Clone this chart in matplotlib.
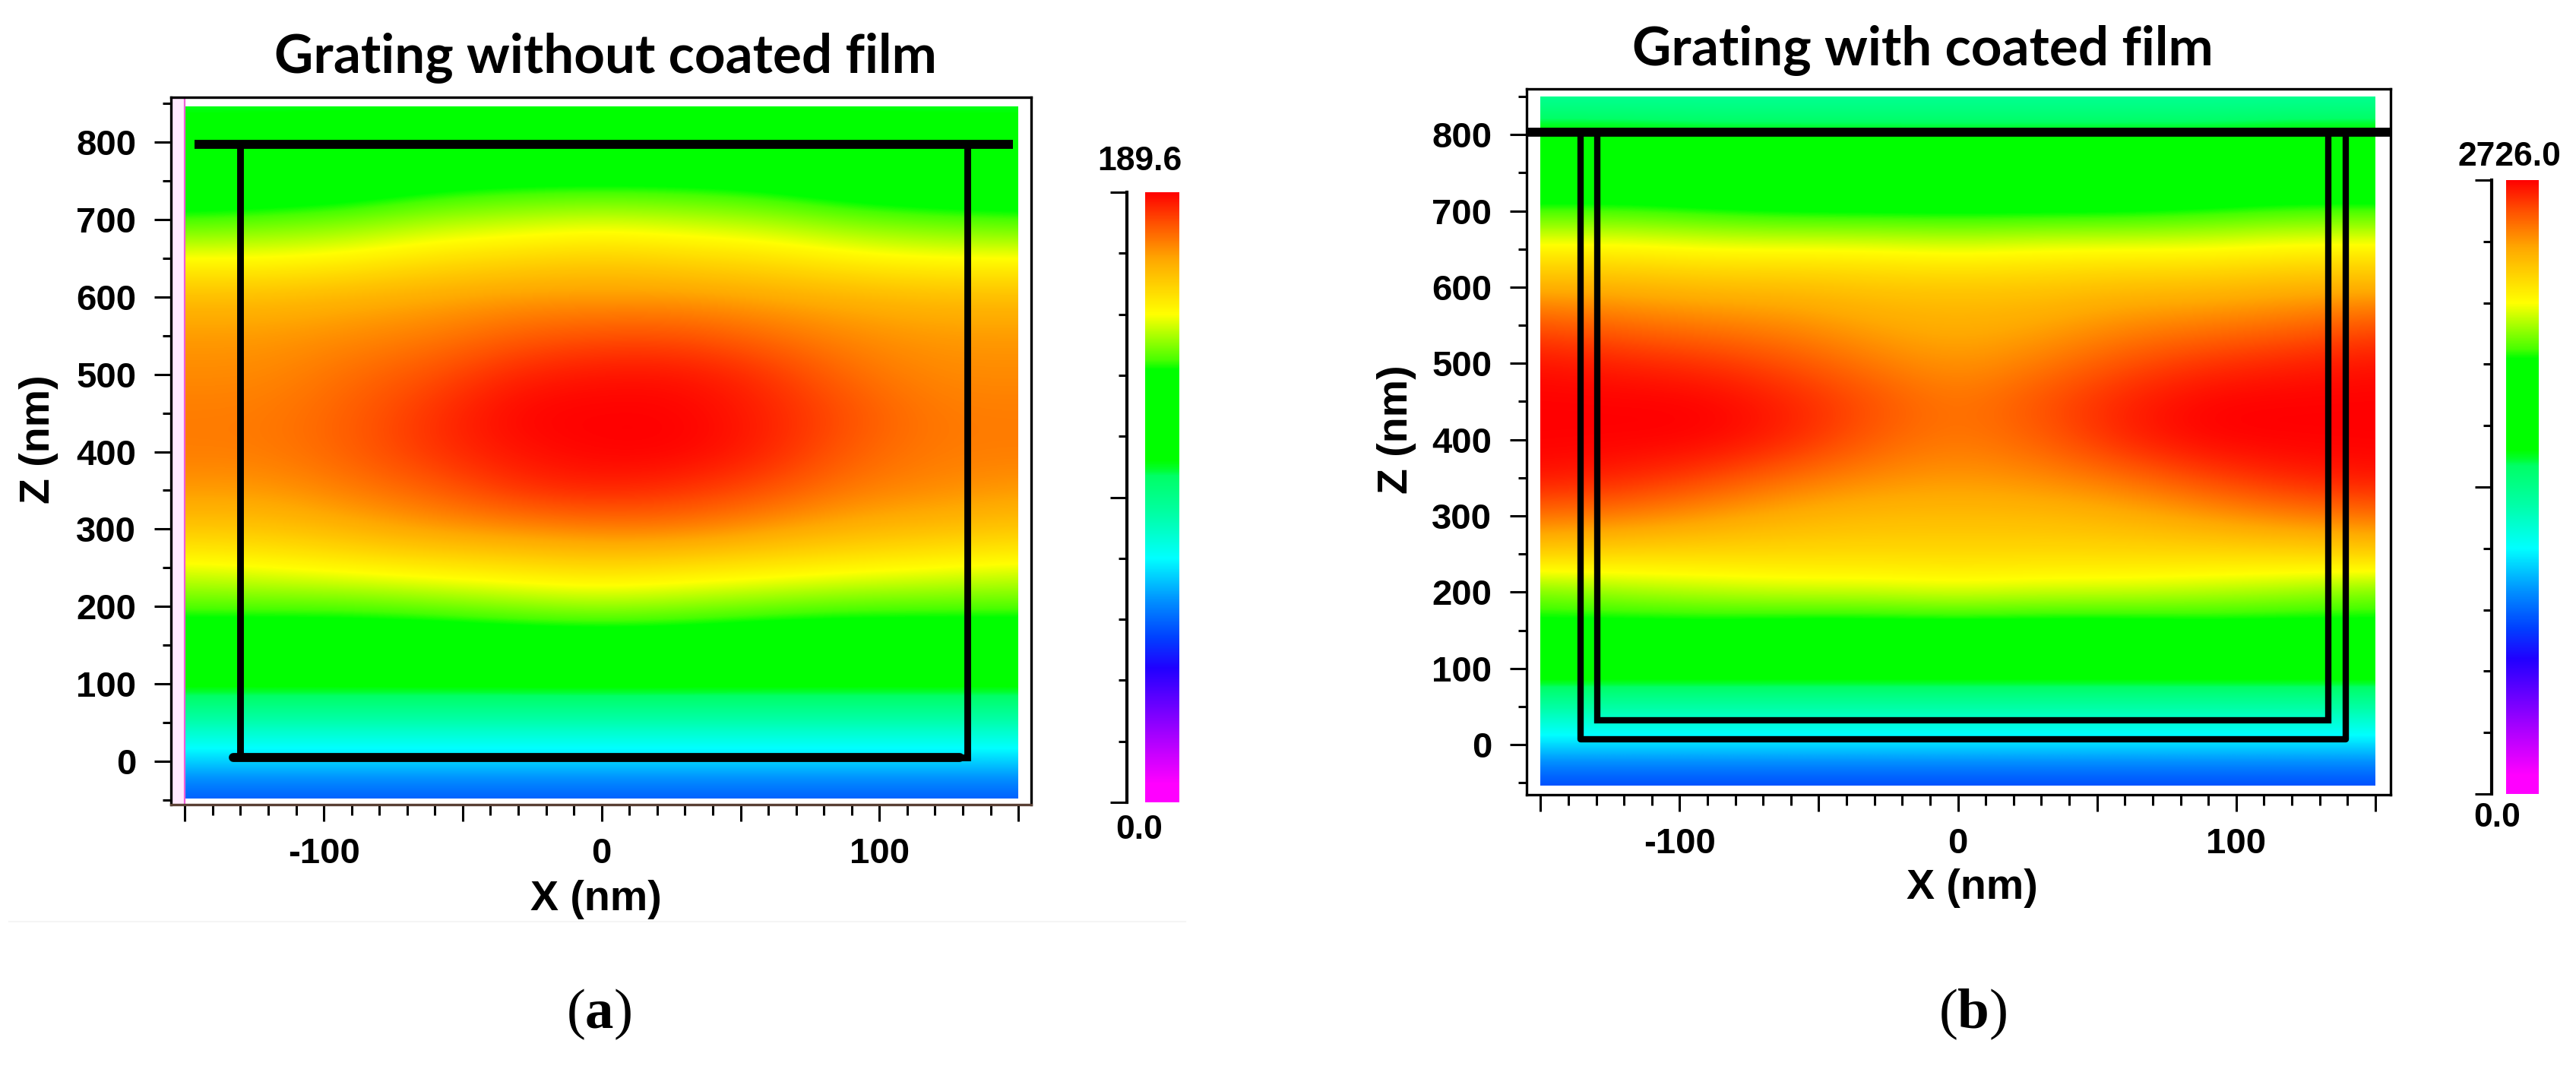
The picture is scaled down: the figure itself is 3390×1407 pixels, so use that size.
import numpy as np
import matplotlib
matplotlib.use('Agg')
import matplotlib.pyplot as plt
from matplotlib.colors import LinearSegmentedColormap
from matplotlib.lines import Line2D
from matplotlib.patches import Rectangle

plt.rcParams['font.family'] = ['Liberation Sans', 'DejaVu Sans']
plt.rcParams['mathtext.fontset'] = 'custom'
plt.rcParams['mathtext.bf'] = 'Liberation Serif:bold'
plt.rcParams['mathtext.rm'] = 'Liberation Serif'

W, H = 3390, 1407

# field values, percent of colour scale
x_cols = [-150, -120, -90, -60, -30, 0, 30, 60, 90, 120, 150]
z_rows = [850, 800, 750, 700, 650, 600, 550, 500, 450, 400, 350, 300, 250, 200, 150, 100, 50, 0, -50]

field_a = [
    [54, 54, 54, 54, 54, 54, 54, 54, 54, 54, 54],
    [60, 60, 61, 62, 62, 62, 62, 62, 61, 60, 60],
    [66, 66, 67, 69, 70, 70, 70, 69, 67, 66, 66],
    [72, 73, 74, 76, 77, 78, 77, 76, 74, 73, 72],
    [80, 80, 81, 83, 84, 85, 84, 83, 81, 80, 80],
    [87, 87, 88, 89, 90, 90, 90, 89, 88, 87, 87],
    [90, 90, 91, 92, 94, 95, 95, 93, 91, 90, 90],
    [91, 91, 93, 95, 98, 99, 99, 97, 93, 91, 91],
    [92, 92, 94, 97, 100, 100, 100, 98, 95, 92, 92],
    [92, 92, 94, 97, 99, 100, 100, 98, 94, 92, 92],
    [90, 90, 92, 94, 97, 98, 97, 95, 92, 91, 90],
    [86, 86, 88, 90, 91, 92, 92, 90, 88, 87, 86],
    [79, 80, 81, 82, 83, 84, 83, 82, 81, 80, 79],
    [73, 73, 73, 74, 75, 76, 75, 74, 73, 73, 73],
    [66, 66, 66, 66, 67, 67, 67, 66, 66, 66, 66],
    [57, 57, 57, 57, 57, 57, 57, 57, 57, 57, 57],
    [46, 46, 46, 46, 46, 46, 46, 46, 46, 46, 46],
    [37, 37, 37, 37, 37, 37, 37, 37, 37, 37, 37],
    [28, 28, 28, 28, 28, 28, 28, 28, 28, 28, 28],
]

field_b = [
    [48, 48, 48, 48, 48, 48, 48, 48, 48, 48, 48],
    [57, 57, 56, 56, 56, 56, 56, 56, 56, 57, 57],
    [65, 65, 64, 64, 63, 63, 63, 64, 64, 65, 65],
    [72, 72, 71, 70, 70, 70, 70, 70, 71, 72, 72],
    [81, 81, 80, 80, 80, 79, 80, 80, 80, 81, 81],
    [88, 88, 87, 87, 86, 86, 86, 87, 87, 88, 88],
    [95, 93, 92, 91, 89, 88, 89, 91, 92, 93, 95],
    [99, 98, 97, 95, 92, 90, 92, 95, 97, 98, 99],
    [100, 100, 100, 98, 95, 92, 95, 98, 100, 100, 100],
    [100, 100, 100, 98, 94, 92, 94, 98, 100, 100, 100],
    [99, 98, 96, 93, 91, 90, 91, 93, 96, 98, 99],
    [93, 92, 90, 88, 87, 87, 87, 88, 90, 92, 93],
    [85, 84, 84, 84, 84, 84, 84, 84, 84, 84, 85],
    [74, 76, 77, 78, 78, 79, 78, 78, 77, 76, 74],
    [70, 69, 69, 68, 68, 68, 68, 68, 69, 69, 70],
    [60, 60, 60, 60, 60, 60, 60, 60, 60, 60, 60],
    [47, 47, 47, 47, 47, 47, 47, 47, 47, 47, 47],
    [38, 38, 38, 38, 38, 38, 38, 38, 38, 38, 38],
    [27, 27, 27, 27, 27, 27, 27, 27, 27, 27, 27],
]

vmax_a = 189.6
vmax_b = 2726.0

# grating outlines, nm
top_a = ([-146.5, 148], [797, 797])
wall_a = ([-130.2, -130.2, 131.5, 131.5], [797, 4.4, 4.4, 797])
top_b = ([-155, 156], [803.6, 803.6])
outer_b = ([-135.7, -135.7, 139.4, 139.4], [803, 7, 7, 803])
inner_b = ([-129.6, -129.6, 133, 133], [803, 31.8, 31.8, 803])

cmap_pos = [0, .03, .10, .22, .27, .33, .40, .47, .535, .545, .56, .71, .725, .80, .89, .95, 1]
cmap_col = ['#ff00ff', '#ff00ff', '#b000ff', '#2000ff', '#0040ff', '#0090ff', '#00ffff', '#00ffa8',
            '#00ff66', '#00ff30', '#00ff00', '#00ff00', '#48ff00', '#ffff00', '#ffa800', '#ff5000', '#ff0000']
field_cmap = LinearSegmentedColormap.from_list('field', list(zip(cmap_pos, cmap_col)), N=1024)

fig = plt.figure(figsize=(W / 100, H / 100), dpi=100, facecolor='white')


def px_axes(x0, x1, y0, y1):
    return fig.add_axes([x0 / W, 1 - y1 / H, (x1 - x0) / W, (y1 - y0) / H])


def txt(x, y, s, **kw):
    kw.setdefault('ha', 'center')
    kw.setdefault('va', 'center')
    return fig.text(x / W, 1 - y / H, s, **kw)


def panel(frame, xlim, zlim, field, vmax, data_z):
    ax = px_axes(*frame)
    ax.set_xlim(*xlim)
    ax.set_ylim(*zlim)
    vals = np.array(field) / 100 * vmax
    im = ax.imshow(vals, cmap=field_cmap, vmin=0, vmax=vmax, aspect='auto', origin='upper',
                   extent=[x_cols[0] - 15, x_cols[-1] + 15, z_rows[-1] - 25, z_rows[0] + 25],
                   interpolation='bicubic', interpolation_stage='data')
    im.set_clip_path(Rectangle((-150, data_z[0]), 300, data_z[1] - data_z[0], transform=ax.transData))
    ax.set_xlim(*xlim)
    ax.set_ylim(*zlim)
    ax.set_xticks(np.arange(-150, 151, 50))
    ax.set_xticklabels(['', '-100', '', '0', '', '100', ''])
    ax.set_xticks(np.arange(-150, 151, 10), minor=True)
    ax.set_yticks(np.arange(0, 801, 100))
    ax.set_yticks(np.arange(-50, 851, 100), minor=True)
    ax.tick_params(axis='both', which='major', length=16, width=2.2, labelsize=34)
    ax.tick_params(axis='x', which='minor', length=10, width=2.2)
    ax.tick_params(axis='y', which='minor', length=8, width=2.2)
    ax.tick_params(axis='x', which='major', pad=15)
    ax.tick_params(axis='y', which='major', pad=17)
    for lab in ax.get_xticklabels() + ax.get_yticklabels():
        lab.set_fontweight('bold')
    for s in ax.spines.values():
        s.set_linewidth(2.4)
    return ax, im


def scale_bar(im, x0, x1, y0, y1, axis_x):
    cax = px_axes(x0, x1, y0, y1)
    cb = fig.colorbar(im, cax=cax)
    cb.outline.set_visible(False)
    cb.set_ticks([])
    sax = px_axes(axis_x, axis_x + 1, y0, y1)
    sax.patch.set_alpha(0)
    for k in ['top', 'right', 'bottom']:
        sax.spines[k].set_visible(False)
    sax.spines['left'].set_linewidth(3)
    sax.set_xticks([])
    sax.set_ylim(0, 1)
    sax.set_yticks([0, .5, 1])
    sax.set_yticklabels([])
    sax.set_yticks(np.arange(0, 1.01, .1), minor=True)
    sax.tick_params(axis='y', which='major', length=16, width=2.2)
    sax.tick_params(axis='y', which='minor', length=8, width=2.2)


# (a)
ax_a, im_a = panel((225, 1357, 128, 1059), (-155, 154.6), (-56, 858), field_a, vmax_a, (-48, 846))
ax_a.axvspan(-155, -150, color='#ffeaff', lw=0, zorder=1.5)
ax_a.axvline(-150, color='#f060d8', lw=1.6, zorder=1.6)
ax_a.spines['bottom'].set_color('#5a4034')
ax_a.plot(*top_a, color='black', lw=8.5, solid_capstyle='butt')
ax_a.plot(*wall_a, color='black', lw=6.4, solid_joinstyle='miter', solid_capstyle='butt')
ax_a.plot([-132.5, 129], [4.4, 4.4], color='black', lw=8.5, solid_capstyle='round')
scale_bar(im_a, 1507, 1552, 253, 1056, 1483)

txt(797, 76, 'Grating without coated film', family=['Lato', 'DejaVu Sans'], weight='bold', fontsize=51)
txt(784, 1184, 'X (nm)', weight='bold', fontsize=40)
txt(51, 578, 'Z (nm)', weight='bold', fontsize=40, rotation=90)
txt(1500, 213, '189.6', weight='bold', fontsize=32)
txt(1499, 1092, '0.0', weight='bold', fontsize=32)
txt(788, 1335, r'($\mathbf{a}$)', family=['Liberation Serif'], fontsize=54)
fig.add_artist(Line2D([12 / W, 1560 / W], [1 - 1213 / H, 1 - 1213 / H], color='#f5f5f5', lw=1.5))

# (b)
ax_b, im_b = panel((2009, 3146, 117, 1046), (-155, 155.5), (-65.7, 860), field_b, vmax_b, (-54, 850))
ax_b.plot(*top_b, color='black', lw=8.5, solid_capstyle='butt', clip_on=False)
ax_b.plot(*outer_b, color='black', lw=6, solid_joinstyle='round', solid_capstyle='butt')
ax_b.plot(*inner_b, color='black', lw=6, solid_joinstyle='miter', solid_capstyle='butt')
scale_bar(im_b, 3298, 3341, 237, 1045, 3279)

txt(2530, 67, 'Grating with coated film', family=['Lato', 'DejaVu Sans'], weight='bold', fontsize=51)
txt(2595, 1169, 'X (nm)', weight='bold', fontsize=40)
txt(1838, 565, 'Z (nm)', weight='bold', fontsize=40, rotation=90)
txt(3302, 206, '2726.0', weight='bold', fontsize=32)
txt(3286, 1076, '0.0', weight='bold', fontsize=32)
txt(2596, 1335, r'($\mathbf{b}$)', family=['Liberation Serif'], fontsize=54)

fig.savefig('out.png', dpi=100)
